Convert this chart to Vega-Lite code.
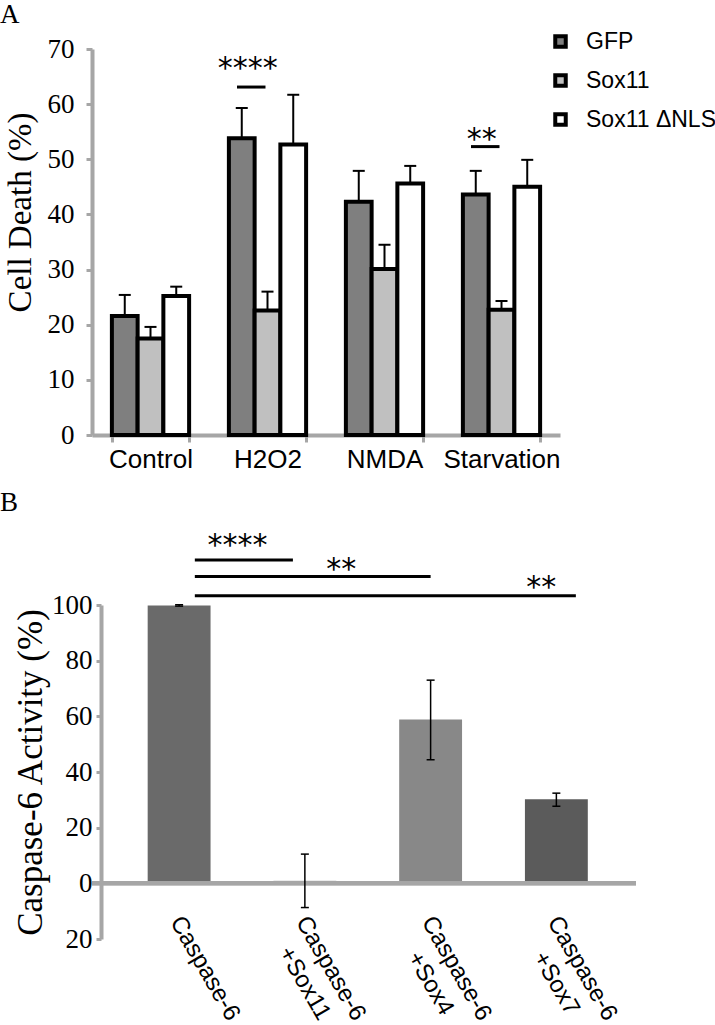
{
  "$schema": "https://vega.github.io/schema/vega-lite/v6.json",
  "padding": {"left": 0, "top": 1, "right": 0, "bottom": 0},
  "background": "white",
  "config": {"view": {"stroke": null}, "font": "Liberation Sans", "axis": {"grid": false}},
  "resolve": {"scale": {"x": "independent", "y": "independent", "fill": "independent", "xOffset": "independent"}, "legend": {"fill": "independent"}},
  "spacing": 17,
  "vconcat": [
    {
      "width": 468,
      "height": 386,
      "title": {"text": "A", "anchor": "start", "frame": "group", "font": "Liberation Serif", "fontSize": 27, "fontWeight": "normal", "color": "black", "dx": -92, "offset": 1},
      "data": {"values": [
        {"cond": "Control", "group": "GFP", "value": 21.6, "hi": 25.4},
        {"cond": "Control", "group": "Sox11", "value": 17.5, "hi": 19.6},
        {"cond": "Control", "group": "Sox11 ΔNLS", "value": 25.2, "hi": 26.9},
        {"cond": "H2O2", "group": "GFP", "value": 53.8, "hi": 59.3},
        {"cond": "H2O2", "group": "Sox11", "value": 22.6, "hi": 26.0},
        {"cond": "H2O2", "group": "Sox11 ΔNLS", "value": 52.7, "hi": 61.7},
        {"cond": "NMDA", "group": "GFP", "value": 42.3, "hi": 47.9},
        {"cond": "NMDA", "group": "Sox11", "value": 30.1, "hi": 34.5},
        {"cond": "NMDA", "group": "Sox11 ΔNLS", "value": 45.6, "hi": 48.8},
        {"cond": "Starvation", "group": "GFP", "value": 43.6, "hi": 47.9},
        {"cond": "Starvation", "group": "Sox11", "value": 22.7, "hi": 24.3},
        {"cond": "Starvation", "group": "Sox11 ΔNLS", "value": 45.0, "hi": 49.9}
      ]},
      "layer": [
        {
          "mark": {"type": "bar", "stroke": "black", "strokeWidth": 4},
          "encoding": {
            "x": {"field": "cond", "type": "nominal", "sort": null,
              "scale": {"domain": ["Control", "H2O2", "NMDA", "Starvation"], "paddingInner": 0.34, "paddingOuter": 0.17},
              "axis": {"title": null, "domainColor": "#a6a6a6", "domainWidth": 4, "tickColor": "#a6a6a6", "tickWidth": 3, "tickSize": 7, "tickBand": "extent", "labelFont": "Liberation Sans", "labelFontSize": 26, "labelColor": "black", "labelPadding": 4, "labelAngle": 0}},
            "xOffset": {"field": "group", "type": "nominal", "sort": null, "scale": {"domain": ["GFP", "Sox11", "Sox11 ΔNLS"], "paddingInner": 0, "paddingOuter": 0}},
            "y": {"field": "value", "type": "quantitative", "scale": {"domain": [0, 70], "nice": false},
              "axis": {"title": "Cell Death (%)", "titleFont": "Liberation Serif", "titleFontSize": 33, "titleFontWeight": "normal", "titleColor": "black", "titlePadding": 10, "titleY": 163,
                "values": [0, 10, 20, 30, 40, 50, 60, 70], "domainColor": "#a6a6a6", "domainWidth": 4, "tickColor": "#a6a6a6", "tickWidth": 3, "tickSize": 6,
                "labelFont": "Liberation Serif", "labelFontSize": 27, "labelColor": "black", "labelPadding": 12}},
            "fill": {"field": "group", "type": "nominal",
              "scale": {"domain": ["GFP", "Sox11", "Sox11 ΔNLS"], "range": ["#7f7f7f", "#c0c0c0", "#ffffff"]},
              "legend": {"title": null, "orient": "none", "legendX": 457, "legendY": -19, "symbolType": "square", "symbolSize": 110, "symbolStrokeColor": "black", "symbolStrokeWidth": 4, "labelFont": "Liberation Sans", "labelFontSize": 23, "labelColor": "black", "rowPadding": 12, "labelOffset": 14}}
          }
        },
        {
          "mark": {"type": "rule", "color": "black", "strokeWidth": 2},
          "encoding": {
            "x": {"field": "cond", "type": "nominal", "sort": null},
            "xOffset": {"field": "group", "type": "nominal", "sort": null},
            "y": {"field": "value", "type": "quantitative"},
            "y2": {"field": "hi"}
          }
        },
        {
          "mark": {"type": "tick", "orient": "horizontal", "color": "black", "opacity": 1, "size": 12, "thickness": 2},
          "encoding": {
            "x": {"field": "cond", "type": "nominal", "sort": null},
            "xOffset": {"field": "group", "type": "nominal", "sort": null},
            "y": {"field": "hi", "type": "quantitative"}
          }
        },
        {
          "data": {"values": [
            {"cond": "H2O2", "ly": 63.1, "ty": 64.7, "label": "****"},
            {"cond": "Starvation", "ly": 52.3, "ty": 51.9, "label": "**"}
          ]},
          "layer": [
            {
              "mark": {"type": "rule", "color": "black", "strokeWidth": 3},
              "encoding": {
                "x": {"field": "cond", "type": "nominal", "sort": null, "bandPosition": 0.105},
                "x2": {"field": "cond", "bandPosition": 0.474},
                "y": {"field": "ly", "type": "quantitative"}
              }
            },
            {
              "mark": {"type": "text", "font": "DejaVu Sans", "fontSize": 30, "baseline": "alphabetic", "align": "center", "color": "black"},
              "encoding": {
                "x": {"field": "cond", "type": "nominal", "sort": null, "bandPosition": 0.245},
                "y": {"field": "ty", "type": "quantitative"},
                "text": {"field": "label"}
              }
            }
          ]
        }
      ]
    },
    {
      "width": 544,
      "height": 334,
      "title": {"text": "B", "anchor": "start", "frame": "group", "font": "Liberation Serif", "fontSize": 27, "fontWeight": "normal", "color": "black", "dx": -92, "offset": 14},
      "layer": [
        {
          "data": {"values": [
            {"cond": "Caspase-6", "value": 99.8, "lo": 99.6, "hi": 100.1},
            {"cond": "Caspase-6\n+Sox11", "value": 0.9, "lo": -8.7, "hi": 10.5},
            {"cond": "Caspase-6\n+Sox4", "value": 58.9, "lo": 44.4, "hi": 73.0},
            {"cond": "Caspase-6\n+Sox7", "value": 30.2, "lo": 27.7, "hi": 32.4}
          ]},
          "layer": [
            {
              "mark": {"type": "bar"},
              "encoding": {
                "x": {"field": "cond", "type": "nominal", "sort": null,
                  "scale": {"domain": ["Caspase-6", "Caspase-6\n+Sox11", "Caspase-6\n+Sox4", "Caspase-6\n+Sox7"], "paddingInner": 0.5, "paddingOuter": 0.413, "align": 0.536},
                  "axis": {"title": null, "domain": false, "ticks": false, "labelAngle": 60, "labelAlign": "center", "labelBaseline": "top", "labelFont": "Liberation Sans", "labelFontSize": 24, "labelColor": "black", "labelPadding": 23, "labelOffset": 36, "labelLineHeight": 30, "labelOverlap": false, "labelBound": false, "labelExpr": "split(datum.label, '\\n')"}},
                "y": {"field": "value", "type": "quantitative", "scale": {"domain": [-20, 100], "nice": false},
                  "axis": {"title": "Caspase-6 Activity (%)", "titleFont": "Liberation Serif", "titleFontSize": 35, "titleFontWeight": "normal", "titleColor": "black", "titlePadding": 3,
                    "values": [-20, 0, 20, 40, 60, 80, 100], "labelExpr": "format(abs(datum.value), 'd')", "offset": -9,
                    "domainColor": "#a6a6a6", "domainWidth": 4, "tickColor": "#a6a6a6", "tickWidth": 3, "tickSize": 5,
                    "labelFont": "Liberation Serif", "labelFontSize": 27, "labelColor": "black", "labelPadding": 4}},
                "fill": {"field": "cond", "type": "nominal", "legend": null,
                  "scale": {"domain": ["Caspase-6", "Caspase-6\n+Sox11", "Caspase-6\n+Sox4", "Caspase-6\n+Sox7"], "range": ["#6a6a6a", "#b0b0b0", "#888888", "#5b5b5b"]}}
              }
            },
            {
              "mark": {"type": "rule", "color": "#a6a6a6", "strokeWidth": 4},
              "encoding": {"y": {"datum": 0, "type": "quantitative"}}
            },
            {
              "mark": {"type": "rule", "color": "black", "strokeWidth": 1.5},
              "encoding": {
                "x": {"field": "cond", "type": "nominal", "sort": null},
                "y": {"field": "lo", "type": "quantitative"},
                "y2": {"field": "hi"}
              }
            },
            {
              "mark": {"type": "tick", "orient": "horizontal", "color": "black", "opacity": 1, "size": 8, "thickness": 1.5},
              "encoding": {
                "x": {"field": "cond", "type": "nominal", "sort": null},
                "y": {"field": "lo", "type": "quantitative"}
              }
            },
            {
              "mark": {"type": "tick", "orient": "horizontal", "color": "black", "opacity": 1, "size": 8, "thickness": 1.5},
              "encoding": {
                "x": {"field": "cond", "type": "nominal", "sort": null},
                "y": {"field": "hi", "type": "quantitative"}
              }
            }
          ]
        },
        {
          "data": {"values": [{"a": "Caspase-6", "b": "Caspase-6\n+Sox11", "y": 116.2}]},
          "mark": {"type": "rule", "color": "black", "strokeWidth": 3},
          "encoding": {
            "x": {"field": "a", "type": "nominal", "bandPosition": 0.75},
            "x2": {"field": "b", "bandPosition": 0.31},
            "y": {"field": "y", "type": "quantitative"}
          }
        },
        {
          "data": {"values": [{"a": "Caspase-6", "b": "Caspase-6\n+Sox4", "y": 110.2}]},
          "mark": {"type": "rule", "color": "black", "strokeWidth": 3},
          "encoding": {
            "x": {"field": "a", "type": "nominal", "bandPosition": 0.75},
            "x2": {"field": "b", "bandPosition": 0.5},
            "y": {"field": "y", "type": "quantitative"}
          }
        },
        {
          "data": {"values": [{"a": "Caspase-6", "b": "Caspase-6\n+Sox7", "y": 103.3}]},
          "mark": {"type": "rule", "color": "black", "strokeWidth": 3},
          "encoding": {
            "x": {"field": "a", "type": "nominal", "bandPosition": 0.75},
            "x2": {"field": "b", "bandPosition": 0.81},
            "y": {"field": "y", "type": "quantitative"}
          }
        },
        {
          "data": {"values": [{"a": "Caspase-6", "y": 117.9, "label": "****"}]},
          "mark": {"type": "text", "font": "DejaVu Sans", "fontSize": 30, "baseline": "alphabetic", "align": "center", "color": "black"},
          "encoding": {
            "x": {"field": "a", "type": "nominal", "bandPosition": 1.43},
            "y": {"field": "y", "type": "quantitative"},
            "text": {"field": "label"}
          }
        },
        {
          "data": {"values": [{"a": "Caspase-6\n+Sox11", "y": 109.5, "label": "**"}]},
          "mark": {"type": "text", "font": "DejaVu Sans", "fontSize": 30, "baseline": "alphabetic", "align": "center", "color": "black"},
          "encoding": {
            "x": {"field": "a", "type": "nominal", "bandPosition": 1.08},
            "y": {"field": "y", "type": "quantitative"},
            "text": {"field": "label"}
          }
        },
        {
          "data": {"values": [{"a": "Caspase-6\n+Sox7", "y": 102.9, "label": "**"}]},
          "mark": {"type": "text", "font": "DejaVu Sans", "fontSize": 30, "baseline": "alphabetic", "align": "center", "color": "black"},
          "encoding": {
            "x": {"field": "a", "type": "nominal", "bandPosition": 0.26},
            "y": {"field": "y", "type": "quantitative"},
            "text": {"field": "label"}
          }
        }
      ]
    }
  ]
}
